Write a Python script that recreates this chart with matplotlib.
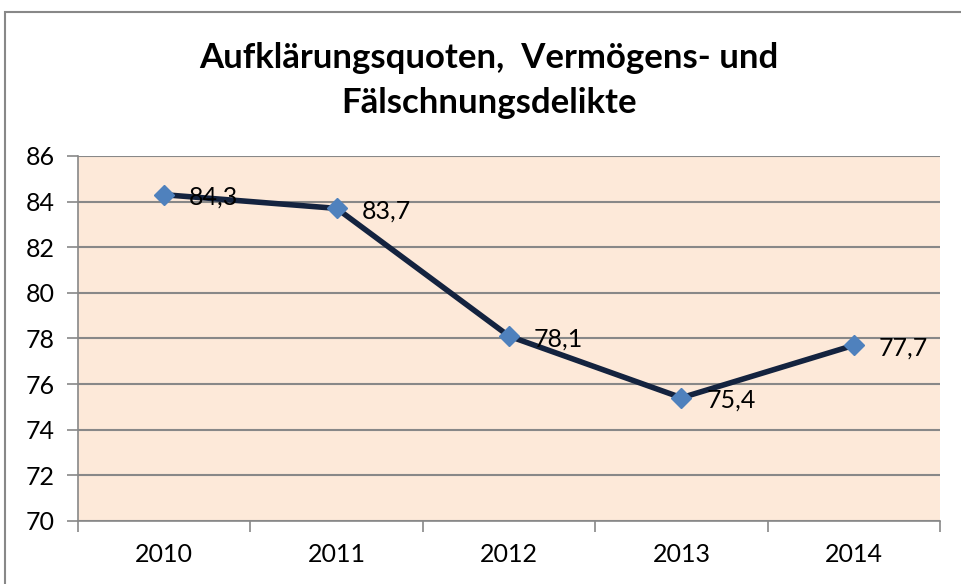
import matplotlib.pyplot as plt
from matplotlib.patches import Rectangle

years = ['2010', '2011', '2012', '2013', '2014']
quote = [84.3, 83.7, 78.1, 75.4, 77.7]
labels = ['84,3', '83,7', '78,1', '75,4', '77,7']

plt.rcParams['font.family'] = ['Lato', 'DejaVu Sans']

fig = plt.figure(figsize=(9.61, 5.84), dpi=100)
ax = fig.add_axes([0.0812, 0.108, 0.897, 0.625])
ax.set_facecolor('#FDE9D9')

# outer chart border
fig.patches.append(Rectangle((5 / 961, -0.1), 1.1, 1.1 - 12 / 584,
                             transform=fig.transFigure, fill=False,
                             edgecolor='#888888', linewidth=1.5))

x = list(range(len(years)))
ax.plot(x, quote, color='#14233F', linewidth=4, zorder=3)
ax.plot(x, quote, 'D', color='#4F81BD', markersize=10, zorder=4)
for xi, yi, lab in zip(x, quote, labels):
    ax.annotate(lab, (xi, yi), xytext=(18, -2), textcoords='offset points',
                va='center', ha='left', fontsize=18, color='black', zorder=5)

ax.set_xlim(-0.5, 4.5)
ax.set_ylim(70, 86)
ax.set_yticks(range(70, 87, 2))
ax.set_xticks(x)
ax.set_xticklabels(years)
ax.set_xticks([i - 0.5 for i in range(len(years) + 1)], minor=True)
ax.tick_params(axis='x', which='major', length=0, pad=16, labelsize=18)
ax.tick_params(axis='x', which='minor', length=8, color='#888888', width=1.2)
ax.tick_params(axis='y', length=8, color='#888888', width=1.2, labelsize=18, pad=9)
ax.grid(axis='y', color='#888888', linewidth=1.5)
ax.set_axisbelow(True)
for s in ['top', 'right']:
    ax.spines[s].set_visible(False)
for s in ['left', 'bottom']:
    ax.spines[s].set_color('#888888')
    ax.spines[s].set_linewidth(1.2)

fig.text(0.509, 0.862, 'Aufklärungsquoten,  Vermögens- und\nFälschnungsdelikte',
         ha='center', va='center', fontsize=25, fontweight='bold',
         linespacing=1.48)

fig.savefig('out.png', dpi=100)
